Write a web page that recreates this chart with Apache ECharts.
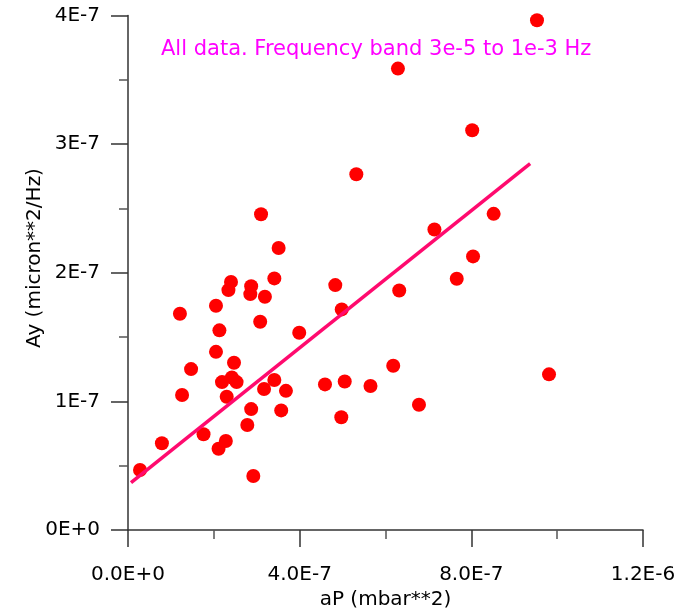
<!DOCTYPE html>
<html>
<head>
<meta charset="utf-8">
<script src="https://cdn.jsdelivr.net/npm/echarts@6/dist/echarts.min.js"></script>
<style>
html,body{margin:0;padding:0;background:#fff;}
#chart{width:686px;height:608px;}
</style>
</head>
<body>
<div id="chart"></div>
<script>
// Data (units: aP in mbar**2, Ay in micron**2/Hz)
var aP = [3.10e-7,3.51e-7,3.41e-7,2.40e-7,2.34e-7,2.87e-7,2.85e-7,3.19e-7,2.05e-7,1.21e-7,
          3.08e-7,2.13e-7,3.99e-7,2.05e-7,2.47e-7,1.47e-7,2.42e-7,2.19e-7,2.53e-7,3.41e-7,
          3.17e-7,3.68e-7,1.26e-7,2.30e-7,2.87e-7,3.57e-7,2.78e-7,1.76e-7,0.79e-7,2.28e-7,
          2.11e-7,0.28e-7,2.92e-7,4.59e-7,5.05e-7,5.65e-7,4.97e-7,4.83e-7,4.98e-7,5.32e-7,
          9.53e-7,6.29e-7,8.02e-7,8.52e-7,7.14e-7,8.04e-7,7.66e-7,6.32e-7,6.18e-7,6.78e-7,
          9.81e-7];
var Ay = [2.455e-7,2.193e-7,1.956e-7,1.929e-7,1.865e-7,1.896e-7,1.834e-7,1.813e-7,1.743e-7,1.681e-7,
          1.619e-7,1.552e-7,1.533e-7,1.385e-7,1.300e-7,1.251e-7,1.186e-7,1.150e-7,1.150e-7,1.166e-7,
          1.096e-7,1.082e-7,1.049e-7,1.036e-7,0.940e-7,0.930e-7,0.816e-7,0.744e-7,0.674e-7,0.692e-7,
          0.632e-7,0.466e-7,0.420e-7,1.132e-7,1.155e-7,1.119e-7,0.876e-7,1.904e-7,1.715e-7,2.766e-7,
          3.963e-7,3.587e-7,3.108e-7,2.458e-7,2.336e-7,2.127e-7,1.953e-7,1.862e-7,1.277e-7,0.974e-7,
          1.210e-7];
var fitX = [0.07e-7, 9.37e-7];
var fitY = [0.3675e-7, 2.849e-7];
var xTickLabels = ['0.0E+0','4.0E-7','8.0E-7','1.2E-6'];
var yTickLabels = ['0E+0','1E-7','2E-7','3E-7','4E-7'];
var titleText = 'All data. Frequency band 3e-5 to 1e-3 Hz';
var xName = 'aP (mbar**2)';
var yName = 'Ay (micron**2/Hz)';

var XINT = 4e-7, YINT = 1e-7;
var FONT = 'DejaVu Sans';

var points = aP.map(function(v,i){ return [v, Ay[i]]; });
var fit = fitX.map(function(v,i){ return [v, fitY[i]]; });

var chart = echarts.init(document.getElementById('chart'), null, {renderer:'canvas'});
chart.setOption({
  animation: false,
  backgroundColor: '#ffffff',
  title: {
    text: titleText, left: 161, top: 39, padding: 0,
    textStyle: {color:'#ff00ff', fontSize:21, fontWeight:'normal', fontFamily:FONT}
  },
  grid: {left:128, right:43, top:15.5, bottom:78, containLabel:false, outerBoundsMode:'none'},
  xAxis: {
    type:'value', min:0, max:1.2e-6, interval:XINT,
    name: xName, nameLocation:'middle', nameGap:60,
    nameTextStyle:{color:'#000', fontSize:20, fontFamily:FONT},
    axisLine:{show:true, onZero:false, lineStyle:{color:'#333', width:1.5}},
    axisTick:{show:true, length:17, lineStyle:{color:'#333', width:1.5}},
    minorTick:{show:true, splitNumber:2, length:9, lineStyle:{color:'#555', width:1.5}},
    splitLine:{show:false}, minorSplitLine:{show:false},
    axisLabel:{margin:35, color:'#000', fontSize:20, fontFamily:FONT,
      formatter:function(v){ return xTickLabels[Math.round(v/XINT)] || ''; }}
  },
  yAxis: {
    type:'value', min:0, max:4e-7, interval:YINT,
    axisLine:{show:true, onZero:false, lineStyle:{color:'#333', width:1.5}},
    axisTick:{show:true, length:17, lineStyle:{color:'#333', width:1.5}},
    minorTick:{show:true, splitNumber:2, length:9, lineStyle:{color:'#555', width:1.5}},
    splitLine:{show:false}, minorSplitLine:{show:false},
    axisLabel:{margin:28, color:'#000', fontSize:20, fontFamily:FONT,
      formatter:function(v){ return yTickLabels[Math.round(v/YINT)] || ''; }}
  },
  graphic: [{
    type:'text', x:35, y:258, rotation:Math.PI/2,
    style:{text:yName, fill:'#000', font:'20px "DejaVu Sans"', textAlign:'center', textVerticalAlign:'middle'}
  }],
  series: [
    {type:'scatter', data:points, symbol:'circle', symbolSize:14,
     itemStyle:{color:'#ff0000', opacity:1}, z:2},
    {type:'line', data:fit, symbol:'none', z:3,
     lineStyle:{color:'#ff0a6e', width:3.5}}
  ]
});
</script>
</body>
</html>
